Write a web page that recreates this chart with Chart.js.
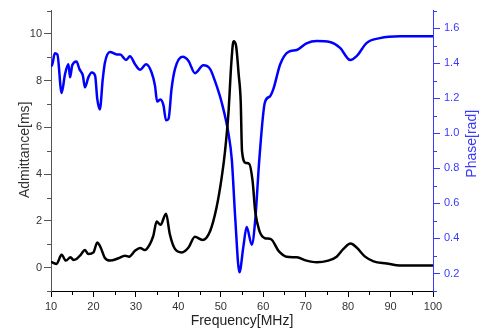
<!DOCTYPE html>
<html>
<head>
<meta charset="utf-8">
<script src="https://cdn.jsdelivr.net/npm/chart.js@4"></script>
<style>
    html, body { margin: 0; padding: 0; background: #fff; }
    #wrap { width: 481px; height: 331px; }
</style>
</head>
<body>
<div id="wrap"><canvas id="chart" width="481" height="331"></canvas></div>
<script>
'use strict';

// Admittance (black) curve
const admFreq = [10.0, 10.6, 11.3, 12.5, 13.5, 14.6, 15.3, 16.0, 17.0, 18.0, 18.8, 20.0, 20.9, 21.7, 22.7, 23.9,
    25.9, 27.4, 28.4, 29.8, 31.0, 32.1, 33.3, 34.1, 34.9, 35.8, 37.1, 38.0, 39.2, 40.8, 42.4, 43.9, 45.7, 47.5,
    49.0, 50.2, 51.0, 51.8, 52.5, 53.0, 53.6, 54.2, 54.7, 55.0, 55.9, 56.7, 57.5, 58.1, 59.1, 60.4, 61.8, 63.6,
    65.5, 67.9, 70.2, 72.6, 75.3, 77.3, 78.9, 80.6, 82.0, 84.0, 86.0, 89.1, 92.2, 96.9, 100];
const admittance = [0.25, 0.2, 0.16, 0.55, 0.3, 0.44, 0.33, 0.37, 0.55, 0.75, 0.58, 0.65, 1.08, 0.86, 0.41, 0.3,
    0.4, 0.51, 0.47, 0.72, 0.84, 0.75, 1.01, 1.36, 1.97, 1.83, 2.31, 1.43, 0.8, 0.65, 0.86, 1.32, 1.18, 1.57,
    2.57, 3.84, 4.98, 6.6, 8.8, 9.69, 9.5, 8.3, 7.1, 5.0, 4.48, 4.44, 3.7, 2.43, 1.57, 1.26, 1.22, 0.72,
    0.47, 0.44, 0.3, 0.23, 0.3, 0.47, 0.8, 1.03, 0.86, 0.47, 0.27, 0.18, 0.09, 0.09, 0.09];

// Phase (blue) curve
const phaseFreq = [10.0, 10.2, 10.9, 11.5, 12.5, 13.3, 14.1, 14.5, 15.0, 16.0, 16.7, 17.5, 18.0, 18.8, 19.6, 20.4,
    20.9, 21.5, 22.2, 22.7, 23.9, 25.5, 26.3, 27.7, 28.6, 29.8, 31.0, 32.4, 33.7, 34.5, 35.0, 35.8, 36.5, 37.1,
    37.7, 38.4, 39.2, 41.0, 42.4, 43.9, 45.9, 47.5, 48.6, 50.2, 51.8, 52.6, 53.4, 54.4, 55.3, 56.1, 57.3, 58.1,
    59.1, 60.4, 61.6, 62.4, 64.0, 65.9, 67.9, 70.2, 72.6, 75.7, 78.1, 80.5, 82.0, 84.4, 87.5, 92.2, 96.9, 100];
const phase = [1.40, 1.385, 1.456, 1.45, 1.23, 1.337, 1.394, 1.319, 1.388, 1.41, 1.366, 1.33, 1.262, 1.319, 1.347, 1.328,
    1.196, 1.136, 1.31, 1.403, 1.464, 1.45, 1.45, 1.418, 1.44, 1.394, 1.362, 1.394, 1.347, 1.272, 1.181, 1.193, 1.159, 1.074,
    1.083, 1.253, 1.366, 1.436, 1.413, 1.343, 1.388, 1.366, 1.3, 1.177, 1.0, 0.85, 0.518, 0.207, 0.349, 0.465, 0.364, 0.5,
    0.857, 1.177, 1.211, 1.253, 1.394, 1.464, 1.475, 1.513, 1.526, 1.521, 1.487, 1.418, 1.44, 1.516, 1.543, 1.553, 1.553, 1.553];

// tick labels
const xTicks = [10, 20, 30, 40, 50, 60, 70, 80, 90, 100];
const admTicks = [0, 2, 4, 6, 8, 10];
const phaseTicks = [0.2, 0.4, 0.6, 0.8, 1.0, 1.2, 1.4, 1.6];
const xMinor = [15, 25, 35, 45, 55, 65, 75, 85, 95];
const admMinor = [-1, 1, 3, 5, 7, 9, 11];
const phaseMinor = [0.1, 0.3, 0.5, 0.7, 0.9, 1.1, 1.3, 1.5, 1.7];

const BLUE = '#0000ff';
const AXIS_BLUE = '#3a3aff';
const FONT = 'Liberation Sans, Arial, sans-serif';

const toPoints = (xs, ys) => xs.map((x, i) => ({ x: x, y: ys[i] }));
const fixTicks = list => scale => { scale.ticks = list.map(v => ({ value: v })); };

// minor tick marks + the two vertical axis titles (both read bottom-to-top)
const extras = {
    id: 'extras',
    afterDraw(chart) {
        const ctx = chart.ctx;
        const { x, y, y2 } = chart.scales;
        ctx.save();
        ctx.lineWidth = 1;
        ctx.strokeStyle = '#000';
        xMinor.forEach(v => {
            const px = Math.round(x.getPixelForValue(v)) + 0.5;
            ctx.beginPath(); ctx.moveTo(px, x.top); ctx.lineTo(px, x.top + 4); ctx.stroke();
        });
        ctx.strokeStyle = '#555';
        admMinor.forEach(v => {
            const py = Math.round(y.getPixelForValue(v)) + 0.5;
            ctx.beginPath(); ctx.moveTo(y.right, py); ctx.lineTo(y.right - 4, py); ctx.stroke();
        });
        ctx.strokeStyle = AXIS_BLUE;
        phaseMinor.forEach(v => {
            const py = Math.round(y2.getPixelForValue(v)) + 0.5;
            ctx.beginPath(); ctx.moveTo(y2.left, py); ctx.lineTo(y2.left + 4, py); ctx.stroke();
        });

        const area = chart.chartArea;
        const midY = (area.top + area.bottom) / 2;
        ctx.font = '14px ' + FONT;
        ctx.textAlign = 'center';
        ctx.textBaseline = 'middle';

        ctx.fillStyle = '#333';
        ctx.translate(25, midY - 1);
        ctx.rotate(-Math.PI / 2);
        ctx.fillText('Admittance[ms]', 0, 0);
        ctx.setTransform(1, 0, 0, 1, 0, 0);

        ctx.fillStyle = AXIS_BLUE;
        ctx.translate(472, midY - 7);
        ctx.rotate(-Math.PI / 2);
        ctx.fillText('Phase[rad]', 0, 0);
        ctx.restore();
    }
};

new Chart(document.getElementById('chart'), {
    type: 'line',
    data: {
        datasets: [{
            label: 'Admittance',
            data: toPoints(admFreq, admittance),
            borderColor: '#000',
            borderWidth: 2.5,
            pointRadius: 0,
            cubicInterpolationMode: 'monotone',
            yAxisID: 'y'
        }, {
            label: 'Phase',
            data: toPoints(phaseFreq, phase),
            borderColor: BLUE,
            borderWidth: 2.5,
            pointRadius: 0,
            cubicInterpolationMode: 'monotone',
            yAxisID: 'y2'
        }]
    },
    options: {
        responsive: false,
        animation: false,
        layout: { padding: { top: 8, left: 0, right: 0, bottom: 0 } },
        plugins: {
            legend: { display: false },
            tooltip: { enabled: false }
        },
        scales: {
            x: {
                type: 'linear',
                min: 10,
                max: 100,
                afterBuildTicks: fixTicks(xTicks),
                afterFit: s => { s.height = 40; },
                grid: { drawOnChartArea: false, tickLength: 6, tickColor: '#000' },
                border: { color: '#000', width: 1 },
                ticks: { color: '#333', font: { family: FONT, size: 11 }, padding: 3, maxRotation: 0 },
                title: { display: true, text: 'Frequency[MHz]', color: '#222', font: { family: FONT, size: 14 }, padding: { top: 0, bottom: 1 } }
            },
            y: {
                position: 'left',
                min: -1,
                max: 11,
                afterBuildTicks: fixTicks(admTicks),
                afterFit: s => { s.width = 51; },
                grid: { drawOnChartArea: false, tickLength: 7, tickColor: '#555' },
                border: { color: '#555', width: 1 },
                ticks: { color: '#333', font: { family: FONT, size: 11 }, padding: 2 }
            },
            y2: {
                position: 'right',
                min: 0.1,
                max: 1.7,
                afterBuildTicks: fixTicks(phaseTicks),
                afterFit: s => { s.width = 48; },
                grid: { drawOnChartArea: false, tickLength: 7, tickColor: AXIS_BLUE },
                border: { color: AXIS_BLUE, width: 1 },
                ticks: {
                    color: AXIS_BLUE,
                    font: { family: FONT, size: 11 },
                    padding: 4,
                    callback: v => v.toFixed(1)
                }
            }
        }
    },
    plugins: [extras]
});
</script>
</body>
</html>
